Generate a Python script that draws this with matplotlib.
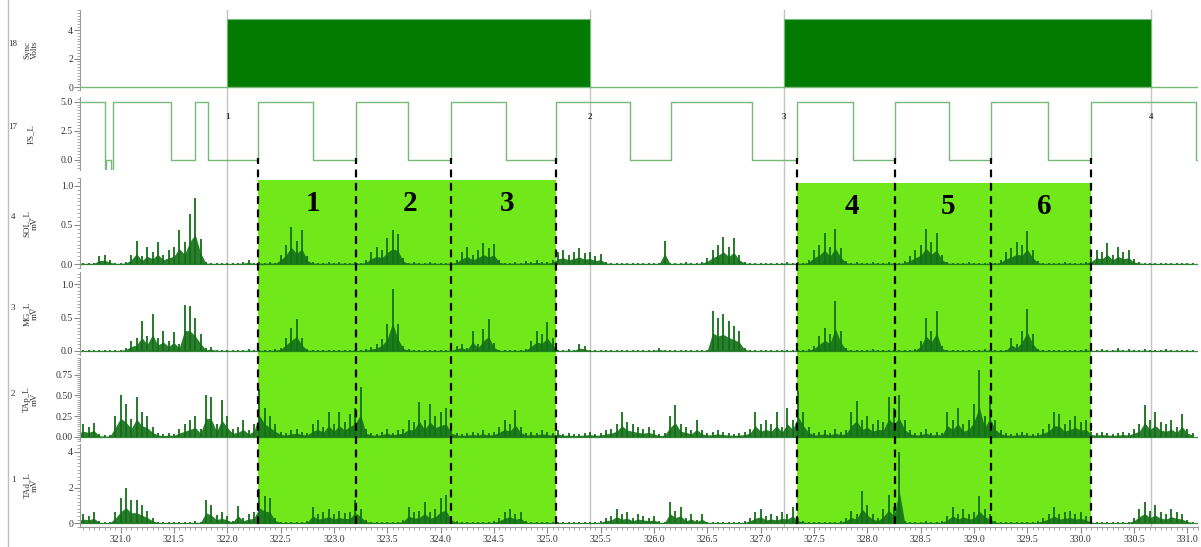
import numpy as np
import matplotlib
matplotlib.use('Agg')
import matplotlib.pyplot as plt
from matplotlib.ticker import MultipleLocator, FormatStrFormatter
from matplotlib.transforms import blended_transform_factory
from matplotlib.patches import Rectangle
from matplotlib.lines import Line2D

plt.rcParams['font.family'] = ['Liberation Serif', 'DejaVu Serif']

# ---- data ----
# sync pulses: on / off times (s), level in volts
sync_on = [322.00, 327.22]
sync_off = [325.40, 330.66]
sync_level = 4.75

# foot switch: step times and levels
fs_t = [320.60, 320.855, 320.865, 320.915, 320.925, 321.47, 321.70, 321.82,
        322.29, 322.80, 323.21, 323.69, 324.10, 324.61, 325.08, 325.78,
        326.16, 326.92, 327.34, 327.87, 328.26, 328.77, 329.16, 329.69,
        330.10, 331.08, 331.20]
fs_v = [5.0, -0.9, 0.0, -0.9, 5.0, 0.0, 5.0, 0.0,
        5.0, 0.0, 5.0, 0.0, 5.0, 0.0, 5.0, 0.0,
        5.0, 0.0, 5.0, 0.0, 5.0, 0.0, 5.0, 0.0,
        5.0, 0.0, 0.0]

# heel strikes (dashed lines) and stride windows
strikes = [322.29, 323.21, 324.10, 325.08, 327.34, 328.26, 329.16, 330.10]
windows = [(322.29, 325.08), (327.34, 330.10)]
window_top_px = [180, 183]
stride_labels = ['1', '2', '3', '4', '5', '6']
stride_x = [322.80, 323.71, 324.62, 327.86, 328.76, 329.66]
stride_y = [0.78, 0.78, 0.78, 0.74, 0.74, 0.74]

# event markers
markers = [322.00, 325.40, 327.22, 330.66]
marker_labels = ['1', '2', '3', '4']

# EMG envelopes, one value every 0.05 s from 320.60 s
sol = [0.02, 0.02, 0.02, 0.02, 0.10, 0.11, 0.05, 0.02,
       0.02, 0.03, 0.12, 0.30, 0.10, 0.22, 0.15, 0.28, 0.12, 0.18, 0.22, 0.44, 0.28, 0.64, 0.84, 0.32, 0.03, 0.02, 0.02, 0.02,
       0.02, 0.02, 0.02, 0.03, 0.05, 0.02, 0.03, 0.02, 0.03, 0.02, 0.12, 0.25, 0.48, 0.30, 0.44, 0.10, 0.03, 0.02, 0.02, 0.03,
       0.02, 0.03, 0.02, 0.02, 0.03, 0.02, 0.05, 0.15, 0.22, 0.18, 0.33, 0.44, 0.38, 0.08, 0.02, 0.03, 0.02, 0.02, 0.03, 0.02,
       0.02, 0.02, 0.03, 0.05, 0.15, 0.22, 0.12, 0.18, 0.27, 0.20, 0.26, 0.05, 0.02, 0.02, 0.03, 0.02, 0.04, 0.03, 0.05, 0.03,
       0.03, 0.05, 0.15, 0.18, 0.12, 0.16, 0.20, 0.14, 0.16, 0.10, 0.13, 0.03, 0.02, 0.02, 0.02, 0.02, 0.02, 0.02, 0.02, 0.02,
       0.02, 0.02, 0.30, 0.02, 0.02, 0.02, 0.03, 0.02, 0.02, 0.03, 0.08, 0.18, 0.25, 0.35, 0.22, 0.33, 0.12, 0.03, 0.02, 0.02,
       0.02, 0.02, 0.02, 0.02, 0.02, 0.03, 0.02, 0.03, 0.02, 0.05, 0.18, 0.25, 0.40, 0.22, 0.45, 0.20, 0.04, 0.02, 0.03, 0.02,
       0.02, 0.03, 0.02, 0.02, 0.03, 0.02, 0.02, 0.04, 0.10, 0.18, 0.25, 0.45, 0.28, 0.40, 0.12, 0.03, 0.02, 0.02, 0.02, 0.03,
       0.02, 0.02, 0.02, 0.03, 0.02, 0.05, 0.15, 0.20, 0.28, 0.25, 0.42, 0.18, 0.04, 0.02, 0.02, 0.02, 0.02, 0.03, 0.02, 0.02,
       0.02, 0.03, 0.08, 0.18, 0.15, 0.27, 0.12, 0.22, 0.15, 0.18, 0.06, 0.03, 0.02, 0.02, 0.02, 0.02, 0.02, 0.02, 0.02, 0.02,
       0.02, 0.02]

mg = [0.02, 0.01, 0.02, 0.01, 0.02, 0.02, 0.01, 0.02,
      0.02, 0.05, 0.15, 0.20, 0.45, 0.22, 0.55, 0.20, 0.30, 0.15, 0.28, 0.10, 0.68, 0.67, 0.50, 0.25, 0.04, 0.06, 0.02, 0.02,
      0.02, 0.02, 0.02, 0.02, 0.03, 0.02, 0.02, 0.02, 0.02, 0.03, 0.05, 0.20, 0.35, 0.48, 0.20, 0.03, 0.02, 0.02, 0.02, 0.02,
      0.02, 0.02, 0.02, 0.02, 0.02, 0.02, 0.03, 0.06, 0.10, 0.18, 0.40, 0.93, 0.40, 0.08, 0.03, 0.02, 0.02, 0.02, 0.02, 0.02,
      0.02, 0.02, 0.02, 0.08, 0.10, 0.05, 0.30, 0.10, 0.33, 0.48, 0.12, 0.02, 0.02, 0.02, 0.02, 0.02, 0.03, 0.15, 0.30, 0.25,
      0.43, 0.20, 0.02, 0.02, 0.03, 0.02, 0.10, 0.07, 0.02, 0.02, 0.02, 0.02, 0.02, 0.02, 0.02, 0.02, 0.02, 0.02, 0.02, 0.02,
      0.02, 0.05, 0.02, 0.02, 0.02, 0.02, 0.02, 0.02, 0.02, 0.02, 0.02, 0.60, 0.50, 0.55, 0.45, 0.38, 0.30, 0.05, 0.02, 0.02,
      0.02, 0.02, 0.02, 0.02, 0.02, 0.02, 0.02, 0.02, 0.02, 0.03, 0.08, 0.22, 0.35, 0.25, 0.75, 0.30, 0.04, 0.02, 0.02, 0.02,
      0.02, 0.03, 0.02, 0.02, 0.02, 0.02, 0.02, 0.02, 0.02, 0.03, 0.15, 0.50, 0.30, 0.60, 0.08, 0.02, 0.02, 0.02, 0.02, 0.02,
      0.02, 0.02, 0.03, 0.02, 0.02, 0.02, 0.02, 0.20, 0.10, 0.30, 0.62, 0.25, 0.03, 0.02, 0.02, 0.02, 0.02, 0.02, 0.02, 0.02,
      0.02, 0.03, 0.02, 0.02, 0.03, 0.02, 0.02, 0.04, 0.02, 0.03, 0.02, 0.02, 0.03, 0.02, 0.02, 0.02, 0.03, 0.02, 0.02, 0.02,
      0.02, 0.02]

tap = [0.10, 0.15, 0.12, 0.17, 0.03, 0.02, 0.02, 0.25,
       0.50, 0.40, 0.22, 0.48, 0.30, 0.25, 0.12, 0.05, 0.03, 0.05, 0.04, 0.10, 0.15, 0.20, 0.25, 0.10, 0.50, 0.48, 0.15, 0.45,
       0.25, 0.10, 0.12, 0.20, 0.08, 0.15, 0.58, 0.35, 0.25, 0.15, 0.06, 0.05, 0.08, 0.10, 0.06, 0.05, 0.15, 0.20, 0.12, 0.30,
       0.15, 0.30, 0.18, 0.28, 0.35, 0.60, 0.10, 0.05, 0.04, 0.06, 0.10, 0.05, 0.08, 0.10, 0.20, 0.18, 0.42, 0.20, 0.40, 0.25,
       0.30, 0.35, 0.10, 0.05, 0.04, 0.05, 0.06, 0.05, 0.08, 0.05, 0.06, 0.12, 0.20, 0.15, 0.32, 0.12, 0.05, 0.06, 0.05, 0.08,
       0.06, 0.05, 0.08, 0.04, 0.05, 0.03, 0.04, 0.05, 0.06, 0.04, 0.05, 0.08, 0.10, 0.15, 0.30, 0.18, 0.15, 0.12, 0.10, 0.12,
       0.08, 0.03, 0.05, 0.25, 0.38, 0.15, 0.12, 0.08, 0.20, 0.08, 0.05, 0.06, 0.08, 0.06, 0.05, 0.04, 0.05, 0.06, 0.10, 0.30,
       0.15, 0.20, 0.15, 0.30, 0.12, 0.35, 0.20, 0.55, 0.30, 0.12, 0.05, 0.06, 0.08, 0.05, 0.10, 0.06, 0.08, 0.30, 0.43, 0.20,
       0.25, 0.15, 0.20, 0.18, 0.48, 0.35, 0.50, 0.20, 0.08, 0.05, 0.06, 0.10, 0.05, 0.06, 0.05, 0.30, 0.20, 0.35, 0.15, 0.20,
       0.40, 0.80, 0.25, 0.50, 0.20, 0.08, 0.05, 0.04, 0.05, 0.06, 0.05, 0.04, 0.05, 0.10, 0.15, 0.30, 0.28, 0.15, 0.20, 0.25,
       0.18, 0.20, 0.06, 0.05, 0.06, 0.05, 0.04, 0.05, 0.06, 0.05, 0.10, 0.15, 0.38, 0.20, 0.30, 0.18, 0.15, 0.20, 0.12, 0.28,
       0.10, 0.05]

tad = [0.30, 0.50, 0.40, 0.60, 0.10, 0.05, 0.05, 0.60,
       1.40, 1.95, 1.30, 1.30, 1.00, 0.70, 0.30, 0.08, 0.06, 0.08, 0.07, 0.08, 0.06, 0.08, 0.10, 0.08, 1.30, 1.00, 0.45, 0.60,
       0.40, 0.10, 0.95, 0.30, 0.50, 0.60, 1.90, 1.50, 1.40, 0.30, 0.08, 0.06, 0.08, 0.07, 0.06, 0.10, 0.90, 0.50, 0.60, 0.80,
       0.50, 0.70, 0.55, 0.60, 1.30, 0.80, 0.20, 0.08, 0.06, 0.08, 0.07, 0.06, 0.08, 0.20, 0.90, 0.60, 0.70, 1.20, 0.60, 0.80,
       1.40, 1.60, 0.40, 0.10, 0.06, 0.08, 0.06, 0.07, 0.06, 0.08, 0.10, 0.30, 0.60, 0.80, 0.50, 0.60, 0.10, 0.06, 0.08, 0.06,
       0.07, 0.06, 0.08, 0.06, 0.07, 0.06, 0.08, 0.07, 0.06, 0.08, 0.10, 0.30, 0.40, 0.80, 0.50, 0.60, 0.30, 0.50, 0.40, 0.30,
       0.40, 0.10, 0.08, 1.20, 0.70, 0.90, 0.30, 0.50, 0.20, 0.50, 0.08, 0.06, 0.07, 0.06, 0.08, 0.06, 0.07, 0.10, 0.30, 0.60,
       0.80, 0.40, 0.50, 0.40, 0.60, 0.50, 0.90, 0.30, 0.10, 0.08, 0.06, 0.08, 0.07, 0.06, 0.08, 0.10, 0.30, 0.70, 0.50, 1.80,
       1.00, 0.50, 0.30, 0.80, 1.60, 0.90, 4.00, 0.10, 0.08, 0.06, 0.08, 0.10, 0.07, 0.08, 0.10, 0.40, 0.90, 0.50, 0.80, 0.50,
       0.60, 1.50, 0.80, 0.50, 0.10, 0.07, 0.06, 0.08, 0.06, 0.07, 0.08, 0.06, 0.10, 0.30, 0.50, 0.90, 0.50, 0.60, 0.70, 0.50,
       0.60, 0.40, 0.10, 0.06, 0.07, 0.06, 0.08, 0.06, 0.07, 0.08, 0.30, 0.80, 1.20, 0.70, 1.00, 0.60, 0.50, 0.80, 0.60, 0.50,
       0.20, 0.08]

t_emg = np.round(320.60 + 0.05 * np.arange(len(sol)), 2)

# ---- layout ----
W, H = 1201, 547
fig = plt.figure(figsize=(W / 100, H / 100), dpi=100)
fig.patch.set_facecolor('white')

X0, X1 = 80, 1198
XLIM = (320.62, 331.10)

# (channel, name, top px, bottom px, ylim, major, minor, fmt)
panels = [
    ('18', 'Sync\nVolts', 10, 90, (-0.2, 5.4), 2, 0.2, '%d'),
    ('17', 'FS_L', 97, 170, (-0.9, 5.4), 2.5, 0.25, '%.1f'),
    ('4', 'SOL_L\nmV', 178, 268, (-0.05, 1.10), 0.5, 0.05, '%.1f'),
    ('3', 'MG_L\nmV', 272, 355, (-0.06, 1.18), 0.5, 0.05, '%.1f'),
    ('2', 'TAp_L\nmV', 358, 441, (-0.05, 0.95), 0.25, 0.025, '%.2f'),
    ('1', 'TAd_L\nmV', 444, 527, (-0.22, 4.45), 2, 0.2, '%d'),
]

axes = []
for i, (ch, name, top, bot, ylim, major, minor, fmt) in enumerate(panels):
    ax = fig.add_axes([X0 / W, 1 - bot / H, (X1 - X0) / W, (bot - top) / H],
                      sharex=axes[0] if axes else None)
    ax.set_facecolor('none')
    ax.set_xlim(*XLIM)
    ax.set_ylim(*ylim)
    for s in ['top', 'right', 'bottom']:
        ax.spines[s].set_visible(False)
    ax.spines['left'].set_color('#9a9a9a')
    ax.yaxis.set_major_locator(MultipleLocator(major))
    ax.yaxis.set_minor_locator(MultipleLocator(minor))
    ax.yaxis.set_major_formatter(FormatStrFormatter(fmt))
    ax.tick_params(axis='y', which='major', length=4, width=0.8, color='#8a8a8a',
                   labelsize=7, labelcolor='#333333', pad=1)
    ax.tick_params(axis='y', which='minor', length=2, width=0.6, color='#9a9a9a')
    ax.tick_params(axis='x', which='both', bottom=False, labelbottom=False)
    cy = 1 - (top + bot) / 2 / H
    fig.text(13 / W, cy + 6 / H, ch, fontsize=6.5, ha='center', va='center', color='#333333')
    fig.text(31 / W, cy, name, fontsize=6.5, ha='center', va='center', rotation=90,
             color='#333333', linespacing=1.0)
    axes.append(ax)

ax_sync, ax_fs, ax_sol, ax_mg, ax_tap, ax_tad = axes

# bottom time axis
ax_tad.spines['bottom'].set_visible(True)
ax_tad.spines['bottom'].set_color('#9a9a9a')
ax_tad.xaxis.set_major_locator(MultipleLocator(0.5))
ax_tad.xaxis.set_minor_locator(MultipleLocator(0.05))
ax_tad.xaxis.set_major_formatter(FormatStrFormatter('%.1f'))
ax_tad.tick_params(axis='x', which='major', bottom=True, labelbottom=True, length=4,
                   color='#8a8a8a', labelsize=7, labelcolor='#333333', pad=2)
ax_tad.tick_params(axis='x', which='minor', bottom=True, length=2, color='#9a9a9a')

# stride windows (bright green) behind the EMG panels
bt = blended_transform_factory(ax_tad.transData, fig.transFigure)
y_bottom = 1 - 524 / H
for (a, b), top_px in zip(windows, window_top_px):
    fig.add_artist(Rectangle((a, y_bottom), b - a, (1 - top_px / H) - y_bottom,
                             transform=bt, facecolor='#70e81a', edgecolor='none', zorder=-2))

# event marker lines
for m in markers:
    fig.add_artist(Line2D([m, m], [1 - 527 / H, 1 - 10 / H], transform=bt,
                          color='#c4c4c4', lw=1.0, zorder=-1))

# sync channel
green_dark = '#007a00'
green_light = '#78b878'
ax_sync.axhline(0, color=green_light, lw=1.0)
for a, b in zip(sync_on, sync_off):
    ax_sync.fill_between([a, b], 0, sync_level, color=green_dark, lw=0)
    ax_sync.plot([a, a, b, b], [0, sync_level, sync_level, 0], color=green_light, lw=0.8)

# foot switch
ax_fs.step(fs_t, fs_v, where='post', color=green_light, lw=1.0)
for m, lab in zip(markers, marker_labels):
    ax_fs.text(m, 3.7, lab, fontsize=6.5, fontweight='bold', ha='center', va='center',
               color='#333333')

# EMG traces: a spike at each sample over a denser core
emg_color = '#137017'
for ax, vals in [(ax_sol, sol), (ax_mg, mg), (ax_tap, tap), (ax_tad, tad)]:
    ax.axhline(0, color=emg_color, lw=0.9, alpha=0.8)
    ax.fill_between(t_emg, 0, np.asarray(vals) * 0.45, color=emg_color, lw=0, alpha=0.9)
    ax.vlines(t_emg, 0, vals, color=emg_color, lw=1.3)

# stride numbers
for lab, x, y in zip(stride_labels, stride_x, stride_y):
    ax_sol.text(x, y, lab, fontsize=21, fontweight='bold', ha='center', va='center',
                color='black', family='Liberation Serif')

# heel strike dashed lines
y_fs0 = 1 - 158 / H
for s in strikes:
    fig.add_artist(Line2D([s, s], [y_bottom, y_fs0], transform=bt, color='black',
                          lw=1.6, dashes=(3.5, 2.5), zorder=5))

# left frame line
fig.add_artist(Line2D([8 / W, 8 / W], [0, 1], transform=fig.transFigure,
                      color='#bdbdbd', lw=1.0))

fig.savefig('out.png', dpi=100)
